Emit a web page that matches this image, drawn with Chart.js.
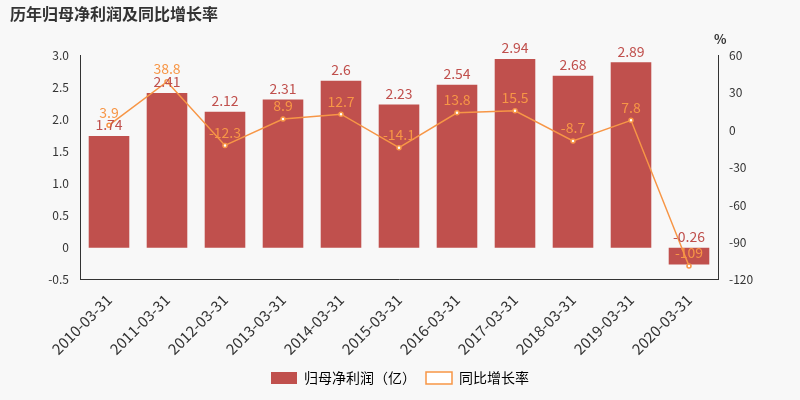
<!DOCTYPE html>
<html><head><meta charset="utf-8">
<script src="https://cdn.jsdelivr.net/npm/chart.js@4/dist/chart.umd.min.js"></script>
<style>body{margin:0;background:#f8f8f8}#w{width:800px;height:400px;position:relative}</style>
</head><body><div id="w"><canvas id="c"></canvas></div>
<script>
const categories=["2010-03-31","2011-03-31","2012-03-31","2013-03-31","2014-03-31","2015-03-31","2016-03-31","2017-03-31","2018-03-31","2019-03-31","2020-03-31"];
const profit=[1.74,2.41,2.12,2.31,2.6,2.23,2.54,2.94,2.68,2.89,-0.26];
const growth=[3.9,38.8,-12.3,8.9,12.7,-14.1,13.8,15.5,-8.7,7.8,-109];
const F='"Noto Sans CJK SC","Noto Sans",sans-serif';
const labels={id:'labels',afterDatasetsDraw(ch){const x=ch.ctx;x.save();x.font='14px '+F;x.textAlign='center';x.textBaseline='bottom';
ch.getDatasetMeta(0).data.forEach((b,i)=>{x.fillStyle='#c0504d';const y=Math.min(b.y,b.base);x.fillText(String(profit[i]),b.x,y-4);});
ch.getDatasetMeta(1).data.forEach((p,i)=>{x.fillStyle='#f79646';x.fillText(String(growth[i]),p.x,p.y-6);});
x.font='bold 13px '+F;x.fillStyle='#333';x.textAlign='left';x.textBaseline='middle';x.fillText('%',714,39);
x.restore();}};
new Chart(document.getElementById('c'),{data:{labels:categories,datasets:[
{type:'bar',label:'归母净利润（亿）',data:profit,backgroundColor:'#c0504d',yAxisID:'y',categoryPercentage:0.7,barPercentage:1,order:2},
{type:'line',label:'同比增长率',data:growth,borderColor:'#f79646',backgroundColor:'#fff',pointBackgroundColor:'#fff',pointBorderColor:'#f79646',borderWidth:1.5,pointRadius:2,yAxisID:'y1',order:1}]},
options:{responsive:true,maintainAspectRatio:false,animation:false,
layout:{padding:{left:10,right:10,top:0,bottom:5}},
plugins:{title:{display:true,text:'历年归母净利润及同比增长率',align:'start',font:{size:16,weight:'bold',family:F},color:'#333',padding:{top:4,bottom:32}},
legend:{position:'bottom',labels:{font:{size:14,family:F},color:'#333',usePointStyle:false,boxWidth:26,boxHeight:12,generateLabels(ch){return [{text:'归母净利润（亿）',fillStyle:'#c0504d',strokeStyle:'#c0504d',lineWidth:0,datasetIndex:0},{text:'同比增长率',fillStyle:'#fff',strokeStyle:'#f79646',lineWidth:1.5,pointStyle:'line',datasetIndex:1}]}}},tooltip:{enabled:false}},
scales:{x:{grid:{display:false},ticks:{maxRotation:45,minRotation:45,font:{size:15,family:F},color:'#333'},border:{color:'#333'}},
y:{position:'left',min:-0.5,max:3,ticks:{stepSize:0.5,font:{size:12,family:F},color:'#333'},grid:{display:false},border:{color:'#333'},afterFit(s){s.width=70}},
y1:{position:'right',min:-120,max:60,ticks:{stepSize:30,font:{size:12,family:F},color:'#333'},grid:{display:false},border:{color:'#333'},afterFit(s){s.width=72}}}},
plugins:[labels]});
</script></body></html>
